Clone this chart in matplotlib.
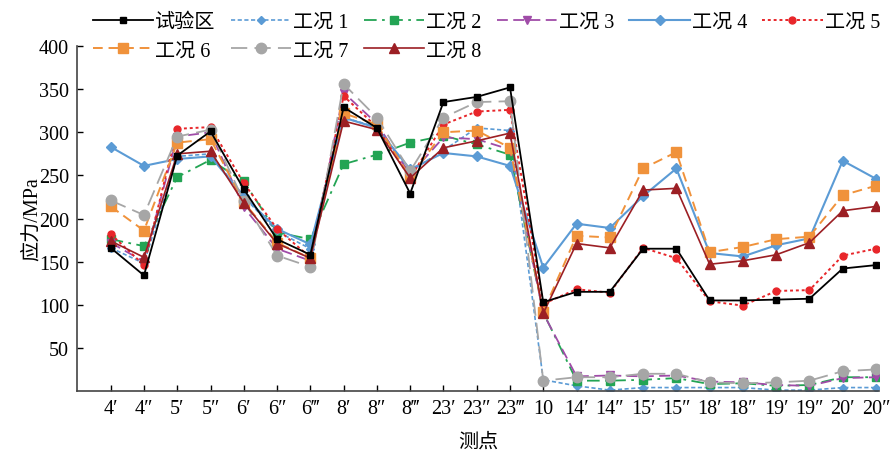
import matplotlib
matplotlib.use("Agg")

import matplotlib.pyplot as plt
import numpy as np

plt.rcParams["font.family"] = ["Liberation Serif", "Noto Sans CJK SC", "DejaVu Serif"]
plt.rcParams["font.size"] = 14.5

# measuring points along x
points = ["4′", "4″", "5′", "5″", "6′", "6″", "6‴", "8′", "8″", "8‴",
          "23′", "23″", "23‴", "10", "14′", "14″", "15′", "15″",
          "18′", "18″", "19′", "19″", "20′", "20″"]

# stress (MPa)
test_zone = [166, 134, 273, 301, 234, 176, 158, 329, 305, 229, 335, 341, 352,
             103, 115, 115, 165, 165, 105, 105, 106, 107, 142, 146]
case1 = [166, 148, 272, 275, 225, 185, 165, 317, 306, 255, 279, 305, 302,
         13, 6, 1, 4, 4, 4, 4, 1, 1, 4, 4]
case2 = [176, 168, 248, 268, 243, 184, 176, 263, 274, 288, 296, 286, 274,
         91, 12, 12, 13, 15, 8, 9, 6, 7, 16, 16]
case3 = [172, 150, 295, 300, 213, 165, 151, 346, 310, 251, 294, 292, 280,
         90, 17, 18, 17, 18, 11, 10, 7, 6, 15, 16]
case4 = [283, 261, 269, 272, 226, 188, 170, 317, 305, 257, 276, 272, 261,
         143, 194, 189, 226, 258, 160, 156, 169, 177, 267, 246]
case5 = [182, 146, 304, 306, 241, 188, 155, 342, 306, 247, 309, 324, 326,
         101, 118, 114, 166, 154, 104, 99, 116, 117, 157, 165]
case6 = [214, 186, 288, 292, 219, 172, 154, 322, 309, 248, 300, 302, 282,
         92, 180, 178, 258, 277, 161, 167, 176, 179, 227, 238]
case7 = [221, 204, 295, 303, 220, 157, 144, 356, 317, 255, 317, 335, 336,
         12, 16, 16, 20, 20, 10, 9, 10, 12, 23, 25]
case8 = [174, 155, 275, 278, 218, 171, 154, 313, 303, 247, 282, 290, 299,
         90, 171, 166, 233, 235, 147, 151, 158, 172, 209, 214]

x = np.arange(1, len(points) + 1)

fig = plt.figure(figsize=(8.94, 4.52), dpi=100)
ax = fig.add_axes([0.0866, 0.1327, 0.8970, 0.7633])

series = [
    ("工况 1", case1, dict(color="#5b9bd5", ls=(0, (2.5, 1.5)), marker="D", ms=4, lw=1.2)),
    ("工况 2", case2, dict(color="#23a454", ls=(0, (7, 3, 1.5, 3)), marker="s", ms=5.5, lw=1.3)),
    ("工况 3", case3, dict(color="#a04ca8", ls=(0, (6, 3)), marker="v", ms=5.5, lw=1.3)),
    ("工况 4", case4, dict(color="#5b9bd5", ls="-", marker="D", ms=5.5, lw=1.5)),
    ("工况 5", case5, dict(color="#e8262a", ls=(0, (1.5, 1.5)), marker="o", ms=5, lw=1.4)),
    ("工况 6", case6, dict(color="#f0923b", ls=(0, (5, 3)), marker="s", ms=6.5, lw=1.4)),
    ("工况 7", case7, dict(color="#a6a6a6", ls=(0, (9, 4)), marker="o", ms=7.5, lw=1.3)),
    ("工况 8", case8, dict(color="#9c1f24", ls="-", marker="^", ms=6.5, lw=1.2)),
]

handles = {}
for name, vals, st in series:
    h, = ax.plot(x, vals, label=name, **st)
    handles[name] = h
h, = ax.plot(x, test_zone, color="black", ls="-", marker="s", ms=4, lw=1.3,
             label="试验区", zorder=5)
handles["试验区"] = h

ax.set_xlim(0, 24.1)
ax.set_ylim(0, 400)
ax.set_yticks(np.arange(50, 401, 50))
ax.set_xticks(x)
ax.set_xticklabels(points)
ax.tick_params(direction="in", length=4, width=1, pad=6)
for s in ["top", "right"]:
    ax.spines[s].set_visible(False)
for s in ["left", "bottom"]:
    ax.spines[s].set_color("#444444")
    ax.spines[s].set_linewidth(1.2)

ax.set_ylabel("应力/MPa", labelpad=-2)
ax.set_xlabel("测点", labelpad=10)

# column-major order so rows read left to right
order = ["试验区", "工况 6", "工况 1", "工况 7", "工况 2", "工况 8", "工况 3", "工况 4", "工况 5"]
fig.legend([handles[k] for k in order], order, loc="upper right",
           bbox_to_anchor=(1.0, 1.0), ncol=6, frameon=False,
           handlelength=3.0, handletextpad=0.1, columnspacing=0.75,
           labelspacing=0.45, borderpad=0.2)

fig.savefig("out.png", dpi=100, facecolor="white")
